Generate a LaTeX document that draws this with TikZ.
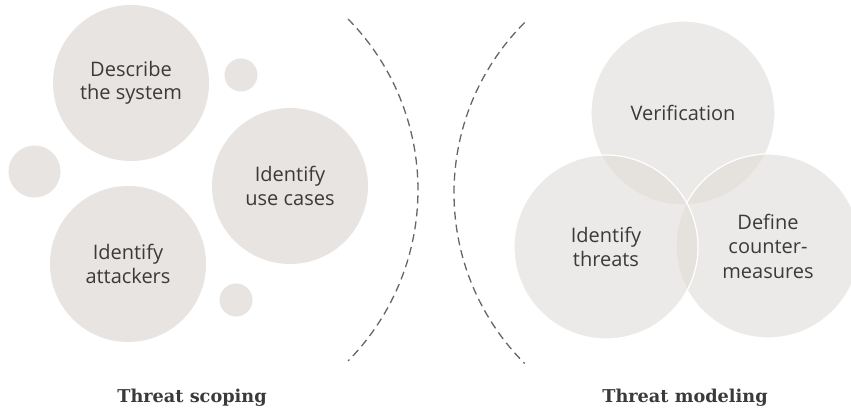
\documentclass[tikz,border=0pt]{standalone}
\usepackage{fontspec}
\setmainfont{Open Sans}
\newfontfamily\capfont{DejaVu Serif}
\usetikzlibrary{positioning}
\definecolor{bub}{HTML}{E7E4E1}
\definecolor{loop}{HTML}{E0DCD8}
\definecolor{ink}{HTML}{3A3A3A}
\definecolor{rimgray}{HTML}{666666}

\begin{document}
\begin{tikzpicture}[x=1pt,y=-1pt,
  bubble/.style={circle,fill=bub,inner sep=0pt,minimum size=#1,text=ink,align=center,
    font=\fontsize{20}{23.5}\selectfont},
  dot/.style={circle,fill=bub,inner sep=0pt,minimum size=#1},
  ring/.style={circle,fill=loop,fill opacity=.6,text opacity=1,draw=white,draw opacity=1,line width=1.2pt,
    inner sep=0pt,minimum size=184pt,text=ink,align=center,font=\fontsize{20}{24.5}\selectfont},
  border/.style={draw=rimgray,line width=1.3pt,dash pattern=on 8pt off 5pt},
  caption/.style={text=ink,font=\capfont\bfseries\fontsize{17.7}{20}\selectfont}]
  \useasboundingbox (0,0) rectangle (851,411);
  \clip (0,0) rectangle (851,411);
  % threat scoping
  \node[bubble=156pt] (desc) at (131,83) {Describe\\the system};
  \node[bubble=156pt] (usec) at (290,186) {Identify\\use cases};
  \node[bubble=156pt] (attk) at (128,264) {Identify\\attackers};
  \node[dot=33pt] (d1) at (241,75) {};
  \node[dot=52pt] (d2) at (34.5,171.5) {};
  \node[dot=33pt] (d3) at (236,300) {};
  % threat modeling
  \node[ring] (verif) at (683,113) {Verification};
  \node[ring] (counter) at (768,246) {Define\\counter-\\measures};
  \node[ring] (threats) at (606,247) {Identify\\threats};
  % dashed borders
  \coordinate (lc) at (174,190);
  \coordinate (rc) at (695,193);
  \draw[border] ([shift={(-44.5:244)}]lc) arc[start angle=-44.5,end angle=44.5,radius=244];
  \draw[border] ([shift={(225:241)}]rc) arc[start angle=225,end angle=135,radius=241];
  \node[caption] (scope) at (192,398) {Threat scoping};
  \node[caption] (model) at (685,398) {Threat modeling};
\end{tikzpicture}
\end{document}
